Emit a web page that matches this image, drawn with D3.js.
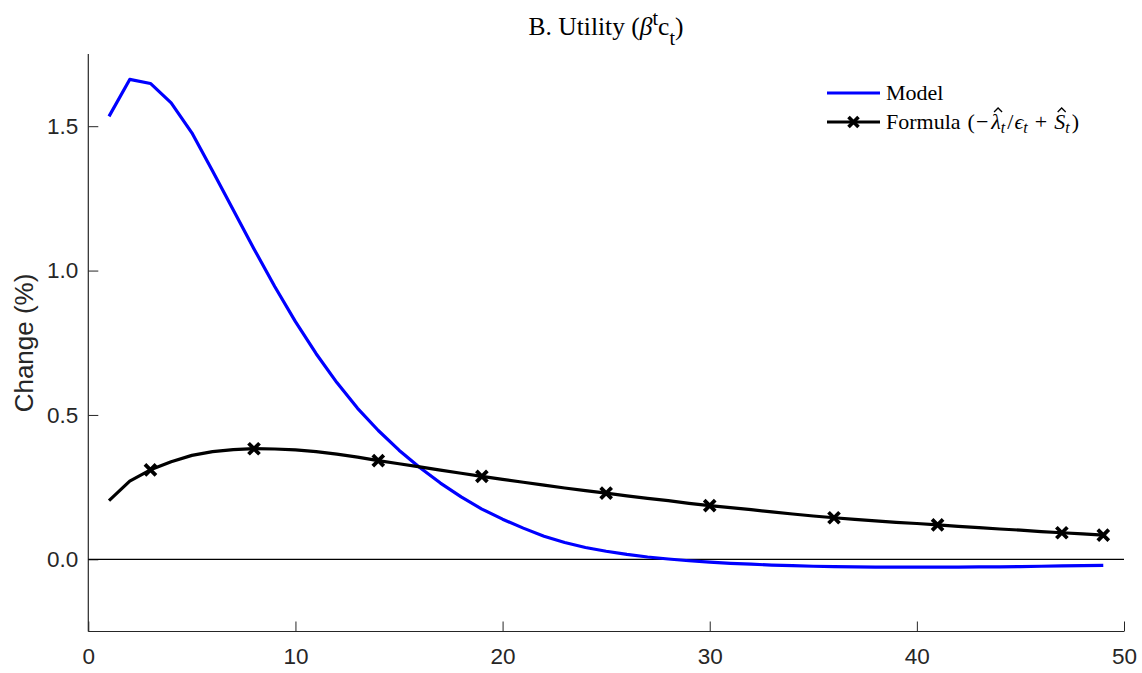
<!DOCTYPE html>
<html><head><meta charset="utf-8">
<script src="https://cdn.jsdelivr.net/npm/d3@7"></script>
<style>body{margin:0;background:#fff;}svg{display:block;}</style>
</head><body>
<script>
// ---- data ----
const periods = d3.range(1, 50); // 1..49
const modelValues = [1.534,1.662,1.648,1.581,1.477,1.345,1.210,1.075,0.945,0.823,
  0.712,0.612,0.523,0.446,0.378,0.318,0.264,0.216,0.174,0.139,
  0.108,0.080,0.058,0.041,0.028,0.017,0.008,0.001,-0.005,-0.010,
  -0.014,-0.017,-0.020,-0.022,-0.024,-0.025,-0.026,-0.027,-0.027,-0.027,
  -0.027,-0.027,-0.026,-0.026,-0.025,-0.024,-0.023,-0.022,-0.021];
const formulaValues = [0.203,0.271,0.310,0.338,0.360,0.373,0.380,0.383,0.382,0.379,
  0.373,0.364,0.354,0.342,0.331,0.320,0.309,0.298,0.287,0.277,
  0.267,0.257,0.247,0.238,0.229,0.220,0.211,0.203,0.194,0.186,
  0.179,0.172,0.164,0.157,0.150,0.144,0.138,0.133,0.128,0.124,
  0.119,0.114,0.110,0.105,0.101,0.096,0.092,0.088,0.084];
const markerPeriods = [3,8,14,19,25,30,36,41,47,49];
const xTicks = [0,10,20,30,40,50];
const yTicks = [0,0.5,1.0,1.5];

const W = 1142, H = 673;
const m = {left: 88.3, right: W - 1124, top: 54, bottom: H - 631.5};
const svg = d3.select("body").append("svg").attr("width", W).attr("height", H);
const x = d3.scaleLinear().domain([0,50]).range([m.left, W - m.right]);
const y = d3.scaleLinear().domain([-0.25,1.75]).range([H - m.bottom, m.top]);
const axisCol = "#262626";
const sans = "'Liberation Sans', Arial, Helvetica, sans-serif";
const serif = "'Liberation Serif', 'Times New Roman', serif";

// axes
const xAxis = svg.append("g").attr("transform", `translate(0,${H - m.bottom})`)
  .call(d3.axisBottom(x).tickValues(xTicks).tickSize(-10).tickPadding(17).tickFormat(d3.format("d")));
const yAxis = svg.append("g").attr("transform", `translate(${m.left},0)`)
  .call(d3.axisLeft(y).tickValues(yTicks).tickSize(-10).tickPadding(10).tickFormat(d3.format(".1f")));
[xAxis, yAxis].forEach(g => {
  g.select(".domain").attr("stroke", axisCol).attr("stroke-width", 1.2);
  g.selectAll(".tick line").attr("stroke", axisCol).attr("stroke-width", 1);
  g.selectAll(".tick text").attr("fill", axisCol).style("font-family", sans).style("font-size", "22.5px");
});
xAxis.select(".domain").attr("d", `M${x(0)},0H${x(50)}`);
yAxis.select(".domain").attr("d", `M0,${y(1.75)}V${y(-0.25)}`);

// zero line
svg.append("line").attr("x1", x(0)).attr("x2", x(50)).attr("y1", y(0)).attr("y2", y(0))
  .attr("stroke", "#000").attr("stroke-width", 1.2);

// lines
const line = d3.line().x((d,i) => x(periods[i])).y(d => y(d));
svg.append("path").attr("d", line(modelValues)).attr("fill","none")
  .attr("stroke","#0000ff").attr("stroke-width",3.2).attr("stroke-linejoin","round");
svg.append("path").attr("d", line(formulaValues)).attr("fill","none")
  .attr("stroke","#000").attr("stroke-width",3.2).attr("stroke-linejoin","round");

const crossPath = s => `M${-s},${-s}L${s},${s}M${-s},${s}L${s},${-s}`;
svg.append("g").selectAll("path").data(markerPeriods).join("path")
  .attr("transform", d => `translate(${x(d)},${y(formulaValues[periods.indexOf(d)])})`)
  .attr("d", crossPath(5.5)).attr("stroke","#000").attr("stroke-width",3.8).attr("fill","none");

// y label
svg.append("text").attr("transform", `translate(33,343) rotate(-90)`)
  .attr("text-anchor","middle").attr("fill", axisCol)
  .style("font-family", sans).style("font-size","26px").text("Change (%)");

// title
const title = svg.append("text").attr("x", 606).attr("y", 35)
  .attr("text-anchor","middle").attr("fill","#000")
  .style("font-family", serif).style("font-size","25.5px");
title.append("tspan").text("B. Utility (");
title.append("tspan").style("font-style","italic").text("β");
title.append("tspan").attr("dy",-10).style("font-size","20px").text("t");
title.append("tspan").attr("dy",10).text("c");
title.append("tspan").attr("dy",10).style("font-size","20px").text("t");
title.append("tspan").attr("dy",-10).text(")");

// legend
const lg = svg.append("g").style("font-family", serif).attr("fill","#000");
lg.append("line").attr("x1",827).attr("x2",880).attr("y1",93).attr("y2",93)
  .attr("stroke","#0000ff").attr("stroke-width",3.2);
lg.append("text").attr("x",886).attr("y",100).style("font-size","22px").text("Model");
lg.append("line").attr("x1",827).attr("x2",880).attr("y1",122).attr("y2",122)
  .attr("stroke","#000").attr("stroke-width",3.2);
lg.append("path").attr("transform","translate(853.5,122)").attr("d", crossPath(5))
  .attr("stroke","#000").attr("stroke-width",3.6).attr("fill","none");

// formula laid out piece by piece
const pieces = [
  {t:"Formula", gap:7}, {t:"(", gap:1}, {t:"−", gap:3},
  {t:"λ", it:true, hat:true, gap:0}, {t:"t", it:true, sub:true, gap:2},
  {t:"/", gap:1}, {t:"ϵ", it:true, gap:0}, {t:"t", it:true, sub:true, gap:7},
  {t:"+", gap:7}, {t:"S", it:true, hat:true, gap:0}, {t:"t", it:true, sub:true, gap:2},
  {t:")", gap:0}
];
let cx = 886; const base = 129;
pieces.forEach(p => {
  const size = p.sub ? 16 : 22;
  const el = lg.append("text").attr("x", cx).attr("y", base + (p.sub ? 4 : 0))
    .style("font-size", size + "px").style("font-style", p.it ? "italic" : "normal").text(p.t);
  const w = el.node().getComputedTextLength();
  if (p.hat) {
    const hx = cx + w/2 + (p.it ? 2 : 0), hy = base - 18;
    lg.append("path").attr("d", `M${hx-4},${hy+1}L${hx},${hy-3}L${hx+4},${hy+1}`)
      .attr("stroke","#000").attr("stroke-width",1.3).attr("fill","none");
  }
  cx += w + p.gap;
});
</script>
</body></html>
